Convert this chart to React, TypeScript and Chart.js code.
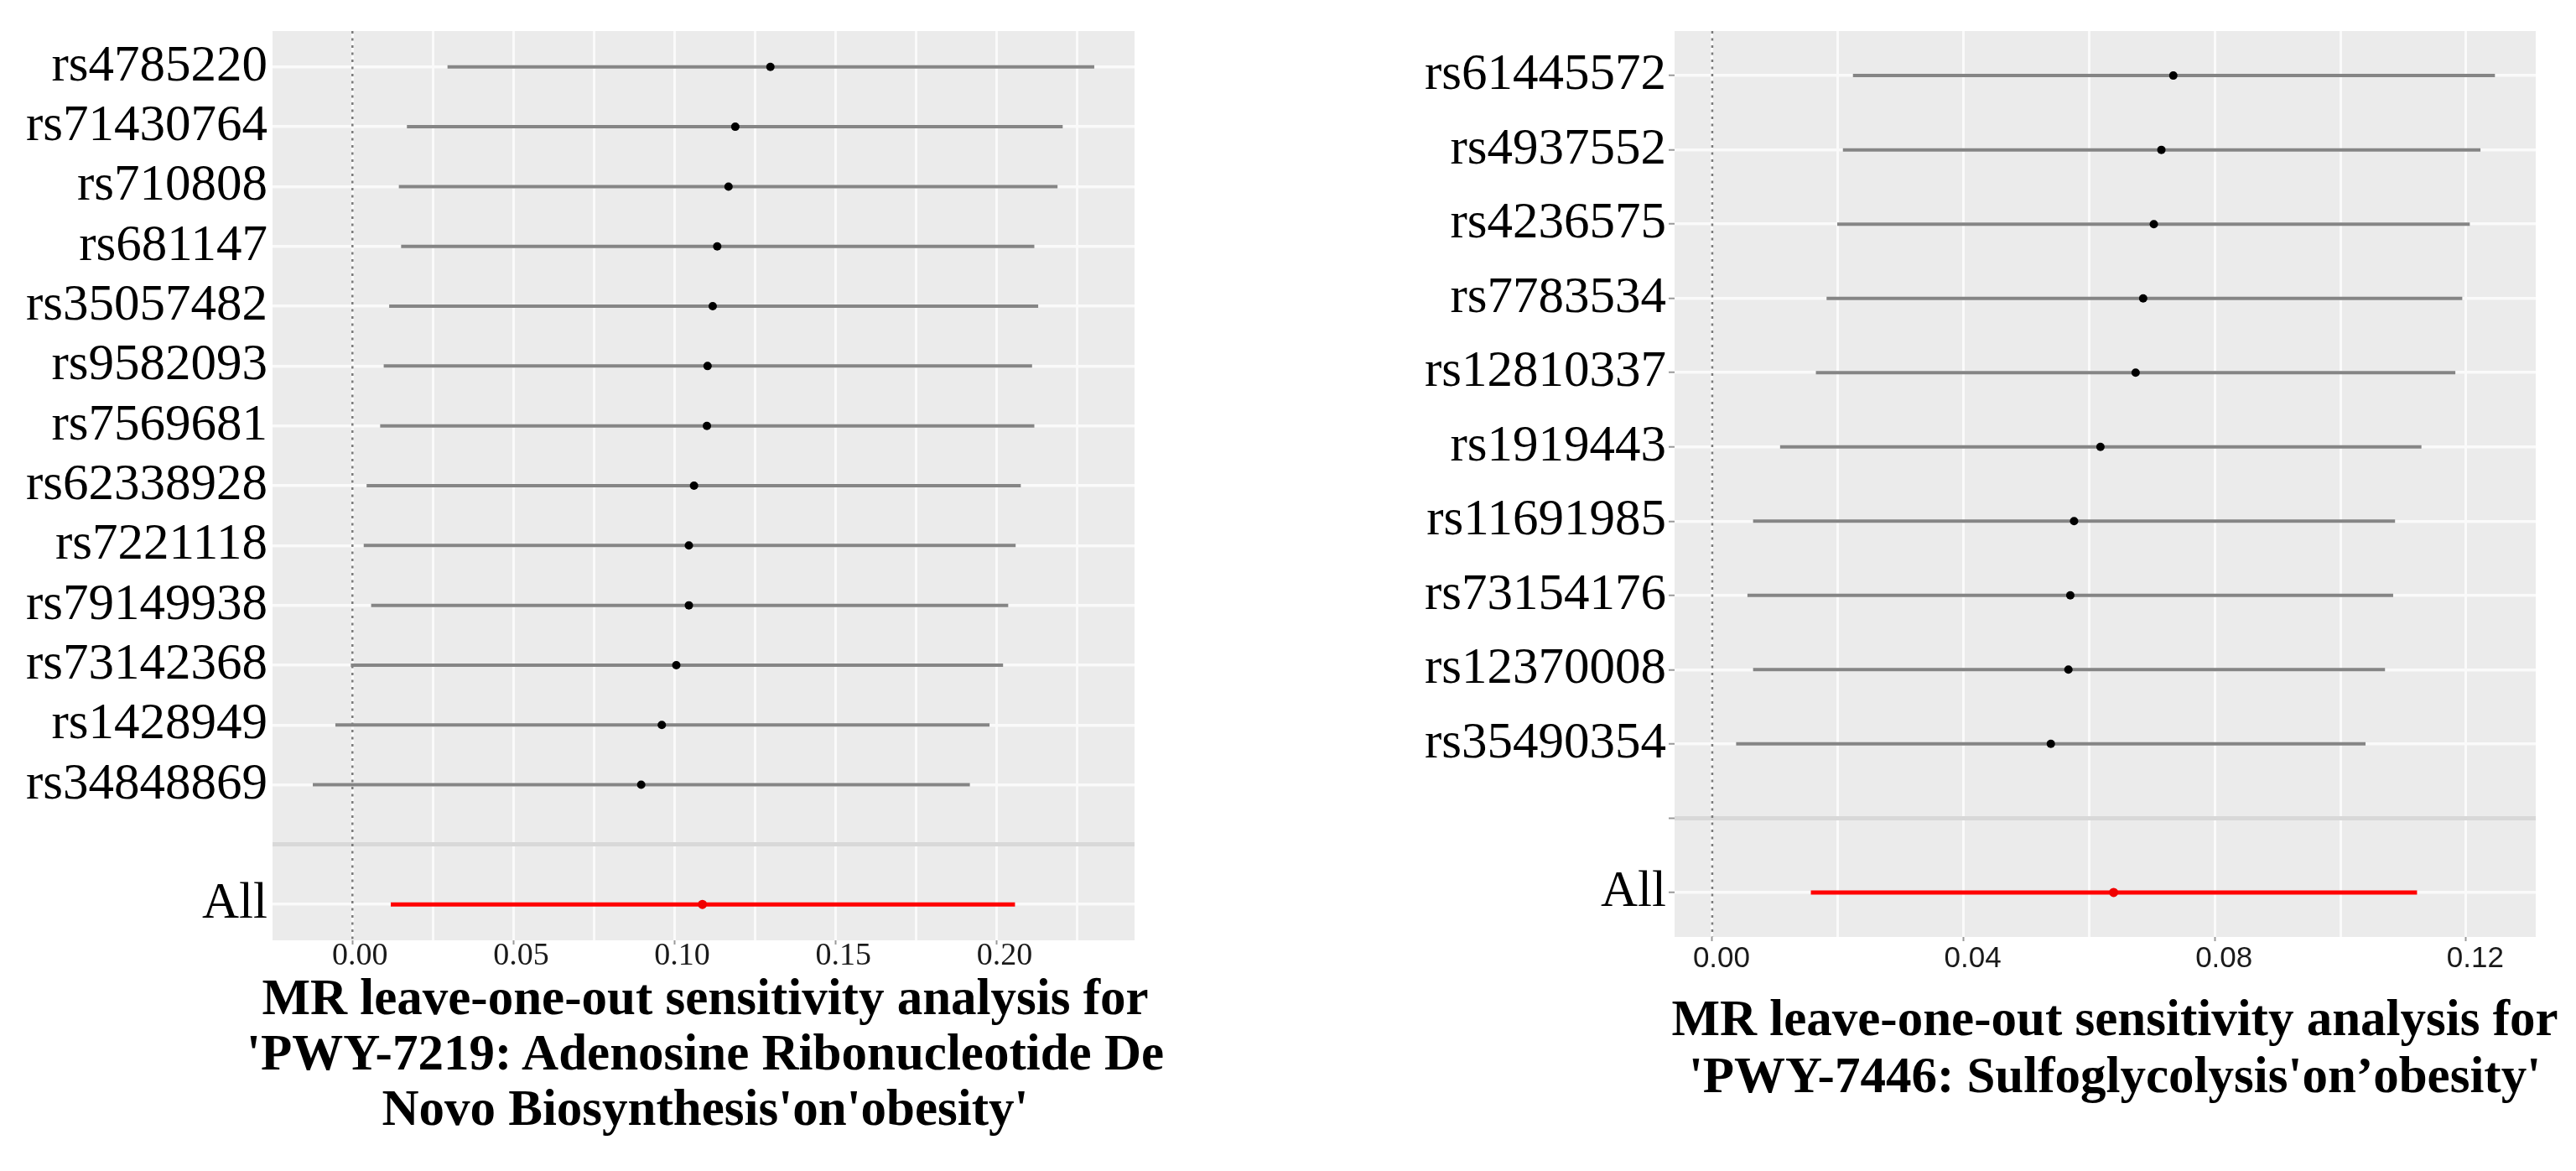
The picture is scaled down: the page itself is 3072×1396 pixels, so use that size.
import React, { useEffect, useRef } from 'react';
import { Chart, registerables } from 'chart.js';

Chart.register(...registerables);

// ---------- data: left panel (PWY-7219) ----------
const leftSnps = [
  'rs4785220', 'rs71430764', 'rs710808', 'rs681147', 'rs35057482', 'rs9582093', 'rs7569681',
  'rs62338928', 'rs7221118', 'rs79149938', 'rs73142368', 'rs1428949', 'rs34848869',
];
const leftB = [0.1297, 0.1188, 0.1167, 0.1132, 0.1118, 0.1102, 0.11, 0.106, 0.1044, 0.1044, 0.1005, 0.096, 0.0896];
const leftLo = [0.0295, 0.0169, 0.0144, 0.0151, 0.0114, 0.0097, 0.0086, 0.0044, 0.0035, 0.0058, -0.0005, -0.0053, -0.0123];
const leftHi = [0.2302, 0.2204, 0.2188, 0.2116, 0.2128, 0.2109, 0.2116, 0.2074, 0.2058, 0.2035, 0.2019, 0.1977, 0.1916];
const leftAll = [0.1086, 0.0119, 0.2056]; // b, lo, hi
const leftXGrid = [0, 0.025, 0.05, 0.075, 0.1, 0.125, 0.15, 0.175, 0.2, 0.225];
const leftXLabels = [0, 0.05, 0.1, 0.15, 0.2];
const leftTitle = [
  'MR leave-one-out sensitivity analysis for',
  "'PWY-7219: Adenosine Ribonucleotide De",
  "Novo Biosynthesis'on'obesity'",
];

// ---------- data: right panel (PWY-7446) ----------
const rightSnps = [
  'rs61445572', 'rs4937552', 'rs4236575', 'rs7783534', 'rs12810337', 'rs1919443', 'rs11691985',
  'rs73154176', 'rs12370008', 'rs35490354',
];
const rightB = [0.0734, 0.0715, 0.0703, 0.0686, 0.0674, 0.0618, 0.0576, 0.057, 0.0567, 0.0539];
const rightLo = [0.0224, 0.0208, 0.0199, 0.0182, 0.0165, 0.0108, 0.0065, 0.0056, 0.0065, 0.0038];
const rightHi = [0.1246, 0.1223, 0.1206, 0.1194, 0.1183, 0.1129, 0.1087, 0.1084, 0.1071, 0.104];
const rightAll = [0.0639, 0.0157, 0.1122];
const rightXGrid = [0, 0.02, 0.04, 0.06, 0.08, 0.1, 0.12];
const rightXLabels = [0, 0.04, 0.08, 0.12];
const rightTitle = [
  'MR leave-one-out sensitivity analysis for',
  "'PWY-7446: Sulfoglycolysis'on\u2019obesity'",
];

type Spec = {
  snps: string[];
  b: number[];
  lo: number[];
  hi: number[];
  all: number[];
  xGrid: number[];
  xLabels: number[];
  xMin: number;
  xMax: number;
  yAxisW: number;
  padRight: number;
  padTop: number;
  xAxisH: number;
  xFont: string;
  xSize: number;
  xPad: number;
  xLabelOffset: number;
  yTicks: boolean;
  yTickLen: number;
  yPad: number;
};

const leftSpec: Spec = {
  snps: leftSnps, b: leftB, lo: leftLo, hi: leftHi, all: leftAll,
  xGrid: leftXGrid, xLabels: leftXLabels, xMin: -0.0248, xMax: 0.2427,
  yAxisW: 325, padRight: 183, padTop: 37, xAxisH: 275,
  xFont: "'Liberation Serif', 'Times New Roman', serif", xSize: 38, xPad: -5, xLabelOffset: 9,
  yTicks: false, yTickLen: 0, yPad: 6,
};

const rightSpec: Spec = {
  snps: rightSnps, b: rightB, lo: rightLo, hi: rightHi, all: rightAll,
  xGrid: rightXGrid, xLabels: rightXLabels, xMin: -0.006, xMax: 0.1311,
  yAxisW: 461, padRight: 48, padTop: 37, xAxisH: 279,
  xFont: "'Liberation Sans', Arial, sans-serif", xSize: 35, xPad: 4, xLabelOffset: 11,
  yTicks: true, yTickLen: 7, yPad: 3,
};

const panelBg = {
  id: 'panelBg',
  beforeDraw(chart: any) {
    const { ctx, chartArea } = chart;
    if (!chartArea) return;
    ctx.save();
    ctx.fillStyle = '#ebebeb';
    ctx.fillRect(chartArea.left, chartArea.top, chartArea.right - chartArea.left, chartArea.bottom - chartArea.top);
    ctx.restore();
  },
};

function buildConfig(s: Spec): any {
  const n = s.snps.length;
  const rowLabels = [...s.snps, '', 'All'];
  const blankRow = n + 1;
  const allRow = n + 2;
  const yMin = 0.4;
  const yMax = allRow + 0.6;
  const isLabeled = (v: number) => s.xLabels.some((l) => Math.abs(l - v) < 1e-9);

  const barData: any[] = [];
  s.snps.forEach((_, i) => {
    barData.push({ x: s.lo[i], y: i + 1 });
    barData.push({ x: s.hi[i], y: i + 1 });
    barData.push({ x: null, y: null });
  });

  return {
    type: 'scatter',
    data: {
      datasets: [
        {
          data: s.b.map((v, i) => ({ x: v, y: i + 1 })),
          pointRadius: 5,
          pointBackgroundColor: '#000000',
          pointBorderWidth: 0,
          showLine: false,
          order: 1,
        },
        {
          data: [{ x: s.all[0], y: allRow }],
          pointRadius: 5.5,
          pointBackgroundColor: '#f00000',
          pointBorderWidth: 0,
          showLine: false,
          order: 1,
        },
        {
          data: barData,
          showLine: true,
          spanGaps: false,
          pointRadius: 0,
          borderColor: '#858585',
          borderWidth: 4,
          borderCapStyle: 'butt',
          order: 2,
        },
        {
          data: [{ x: s.all[1], y: allRow }, { x: s.all[2], y: allRow }],
          showLine: true,
          pointRadius: 0,
          borderColor: '#ff0000',
          borderWidth: 5,
          borderCapStyle: 'butt',
          order: 2,
        },
        {
          data: [{ x: 0, y: yMin }, { x: 0, y: yMax }],
          showLine: true,
          pointRadius: 0,
          borderColor: '#7a7a7a',
          borderWidth: 2.5,
          borderDash: [3, 5.5],
          order: 3,
        },
      ],
    },
    options: {
      responsive: false,
      animation: false,
      devicePixelRatio: 1,
      events: [],
      layout: { padding: { left: 0, right: s.padRight, top: s.padTop, bottom: 0 } },
      plugins: {
        legend: { display: false },
        tooltip: { enabled: false },
        title: { display: false },
      },
      scales: {
        x: {
          type: 'linear',
          min: s.xMin,
          max: s.xMax,
          afterBuildTicks: (scale: any) => {
            scale.ticks = s.xGrid.map((v) => ({ value: v }));
          },
          afterFit: (scale: any) => {
            scale.height = s.xAxisH;
          },
          border: { display: false },
          grid: {
            color: '#fafafa',
            lineWidth: 3,
            drawTicks: true,
            tickLength: 5,
            tickWidth: 2,
            tickColor: (ctx: any) => (ctx.tick && isLabeled(ctx.tick.value) ? '#9a9a9a' : 'rgba(0,0,0,0)'),
          },
          ticks: {
            autoSkip: false,
            maxRotation: 0,
            minRotation: 0,
            padding: s.xPad,
            labelOffset: s.xLabelOffset,
            color: '#1a1a1a',
            font: { family: s.xFont, size: s.xSize, lineHeight: 1 },
            callback: (v: any) => (isLabeled(Number(v)) ? Number(v).toFixed(2) : ''),
          },
        },
        y: {
          type: 'linear',
          reverse: true,
          min: yMin,
          max: yMax,
          afterBuildTicks: (scale: any) => {
            scale.ticks = rowLabels.map((_, i) => ({ value: i + 1 }));
          },
          afterFit: (scale: any) => {
            scale.width = s.yAxisW;
          },
          border: { display: false },
          grid: {
            color: (ctx: any) => (ctx.tick && ctx.tick.value === blankRow ? '#d8d8d8' : '#fafafa'),
            lineWidth: (ctx: any) => (ctx.tick && ctx.tick.value === blankRow ? 5 : 3.5),
            drawTicks: s.yTicks,
            tickLength: s.yTickLen,
            tickWidth: 2,
            tickColor: '#9a9a9a',
          },
          ticks: {
            autoSkip: false,
            padding: s.yPad,
            color: '#000000',
            font: { family: "'Liberation Serif', 'Times New Roman', serif", size: 61, lineHeight: 1 },
            callback: (v: any) => rowLabels[Math.round(Number(v)) - 1] ?? '',
          },
        },
      },
    },
    plugins: [panelBg],
  };
}

function Panel({ spec, left }: { spec: Spec; left: number }) {
  const ref = useRef<HTMLCanvasElement>(null);
  useEffect(() => {
    if (!ref.current) return;
    const chart = new Chart(ref.current, buildConfig(spec));
    return () => chart.destroy();
  }, [spec]);
  return (
    <canvas
      ref={ref}
      width={1536}
      height={1396}
      style={{ position: 'absolute', left, top: 0, width: 1536, height: 1396 }}
    />
  );
}

function Title({ lines, centerX, top, lineHeight }: { lines: string[]; centerX: number; top: number; lineHeight: number }) {
  const w = 1500;
  return (
    <div
      style={{
        position: 'absolute',
        left: centerX - w / 2,
        top,
        width: w,
        textAlign: 'center',
        fontFamily: "'Liberation Serif', 'Times New Roman', serif",
        fontWeight: 'bold',
        fontSize: 61,
        lineHeight: `${lineHeight}px`,
        color: '#000',
        whiteSpace: 'nowrap',
      }}
    >
      {lines.map((l, i) => (
        <div key={i}>{l}</div>
      ))}
    </div>
  );
}

export default function App() {
  useEffect(() => {
    document.body.style.margin = '0';
  }, []);
  return (
    <div style={{ position: 'absolute', left: 0, top: 0, width: 3072, height: 1396, background: '#fff', overflow: 'hidden' }}>
      <Panel spec={leftSpec} left={0} />
      <Panel spec={rightSpec} left={1536} />
      <Title lines={leftTitle} centerX={841} top={1156} lineHeight={66} />
      <Title lines={rightTitle} centerX={2522} top={1180} lineHeight={68} />
    </div>
  );
}
